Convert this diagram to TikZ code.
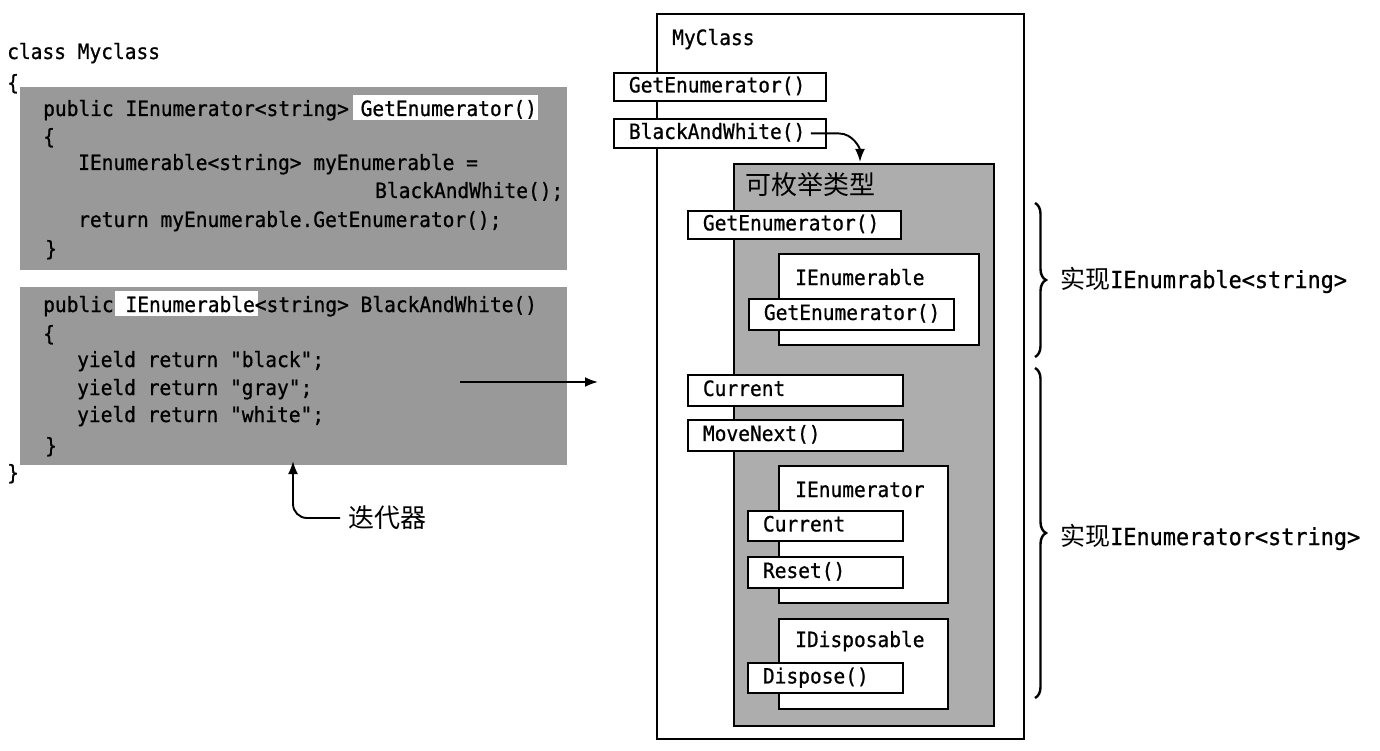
\documentclass[tikz,border=0pt]{standalone}
\usepackage{fontspec}
\newfontfamily\codefam[FakeStretch=0.93,FakeBold=0.8]{DejaVu Sans Mono}
\newfontfamily\cjkfam{Noto Sans CJK SC}
\usetikzlibrary{arrows.meta,decorations.pathreplacing}
\newcommand\codefont{\codefam\fontsize{21}{24}\selectfont}
\newcommand\labfont{\codefam\fontsize{23.5}{28}\selectfont}
\newcommand\cjkfont{\cjkfam\fontsize{26}{30}\selectfont}
\begin{document}
\begin{tikzpicture}[x=1pt,y=-1pt,
  code/.style={font=\codefont, anchor=base west, inner sep=0pt},
  codebg/.style={fill=black!40, draw=none, anchor=north west, inner sep=0pt},
  hl/.style={fill=white, draw=none, anchor=north west, inner sep=0pt},
  meth/.style={draw, line width=1.9pt, fill=white, anchor=north west, font=\codefont, align=left, inner xsep=15pt, inner ysep=0pt, text height=15pt, text depth=4pt},
  ibox/.style={draw, line width=1.9pt, fill=white, anchor=north west, inner sep=0pt},
  arr/.style={line width=1.9pt, -{Latex[length=13pt,width=10pt]}},
  brc/.style={line width=2.4pt, decorate, decoration={brace, amplitude=11pt}},
]
\useasboundingbox (0,0) rectangle (1380,751);

% ---------- left: code ----------
\node[code] (cls) at (7,59) {class Myclass};
\node[code] (ob) at (7,90) {\{};

\node[codebg, minimum width=547pt, minimum height=183pt] (box1) at (20,87) {};
\node[hl, minimum width=185pt, minimum height=25pt] (hl1) at (353,95) {};
\node[code] (l1) at (43,116) {public IEnumerator<string> GetEnumerator()};
\node[code] (l2) at (43,144) {\{};
\node[code] (l3) at (78,170) {IEnumerable<string> myEnumerable =};
\node[code] (l4) at (375,198) {BlackAndWhite();};
\node[code] (l5) at (78,227) {return myEnumerable.GetEnumerator();};
\node[code] (l6) at (45,256) {\}};

\node[codebg, minimum width=547pt, minimum height=178pt] (box2) at (20,287) {};
\node[hl, minimum width=143pt, minimum height=25pt] (hl2) at (115,291) {};
\node[code] (m1) at (43,312) {public IEnumerable<string> BlackAndWhite()};
\node[code] (m2) at (43,341) {\{};
\node[code] (m3) at (77,367) {yield return "black";};
\node[code] (m4) at (77,395) {yield return "gray";};
\node[code] (m5) at (77,422) {yield return "white";};
\node[code] (m6) at (45,453) {\}};
\node[code] (cb) at (7,480) {\}};

\coordinate (c1) at (460,382);
\coordinate (c2) at (598,382);
\draw[arr] (c1) -- (c2);

\node[font=\cjkfont, anchor=west, inner sep=0pt] (iter) at (348,518) {迭代器};
\coordinate (itip) at (293,461);
\draw[arr, rounded corners=14pt] ([xshift=-8pt]iter.west) -| (itip);

% ---------- right: class diagram ----------
\node[ibox, minimum width=367pt, minimum height=725pt] (cls2) at (656,13) {};
\node[code] (clsL) at (672,45) {MyClass};

\node[meth, text width=182pt, minimum height=28pt] (ge0) at (613,72) {GetEnumerator()};
\node[meth, text width=182pt, minimum height=29pt] (bw) at (613,118) {BlackAndWhite()};

\node[draw, line width=1.9pt, fill=black!32, anchor=north west, inner sep=0pt, minimum width=260pt, minimum height=562pt] (enum) at (733,163) {};
\node[font=\cjkfont, anchor=west, inner sep=0pt] (enumL) at (745,185) {可枚举类型};

\coordinate (bwtip) at (860,162);
\draw[arr] ([xshift=-16pt]bw.east) -- ++(28pt,0) to[out=0,in=90] (bwtip);

\node[meth, text width=183pt, minimum height=28pt] (ge1) at (687,210) {GetEnumerator()};

\node[ibox, minimum width=200pt, minimum height=91pt] (ienum) at (778,253) {};
\node[code] (ienumL) at (795,285) {IEnumerable};
\node[meth, text width=175pt, minimum height=31pt] (ge2) at (748,298) {GetEnumerator()};

\node[meth, text width=185pt, minimum height=31pt] (cur1) at (687,374) {Current};
\node[meth, text width=185pt, minimum height=31pt] (mn) at (687,419) {MoveNext()};

\node[ibox, minimum width=169pt, minimum height=137pt] (ietor) at (778,465) {};
\node[code] (ietorL) at (795,497) {IEnumerator};
\node[meth, text width=125pt, minimum height=30pt] (cur2) at (747,510) {Current};
\node[meth, text width=125pt, minimum height=31pt] (rst) at (747,556) {Reset()};

\node[ibox, minimum width=169pt, minimum height=90pt] (idisp) at (778,618) {};
\node[code] (idispL) at (795,647) {IDisposable};
\node[meth, text width=125pt, minimum height=30pt] (dsp) at (747,662) {Dispose()};

% ---------- braces ----------
\coordinate (b1t) at (1035,203);
\coordinate (b1b) at (1035,357);
\coordinate (b2t) at (1035,368);
\coordinate (b2b) at (1035,698);
\draw[brc] (b1t) -- (b1b);
\draw[brc] (b2t) -- (b2b);
\node[font=\labfont, anchor=west, inner sep=0pt] (lab1) at (1060,280) {{\cjkfam\fontsize{25}{30}\selectfont 实现}IEnumrable<string>};
\node[font=\labfont, anchor=west, inner sep=0pt] (lab2) at (1060,537) {{\cjkfam\fontsize{25}{30}\selectfont 实现}IEnumerator<string>};
\end{tikzpicture}
\end{document}
